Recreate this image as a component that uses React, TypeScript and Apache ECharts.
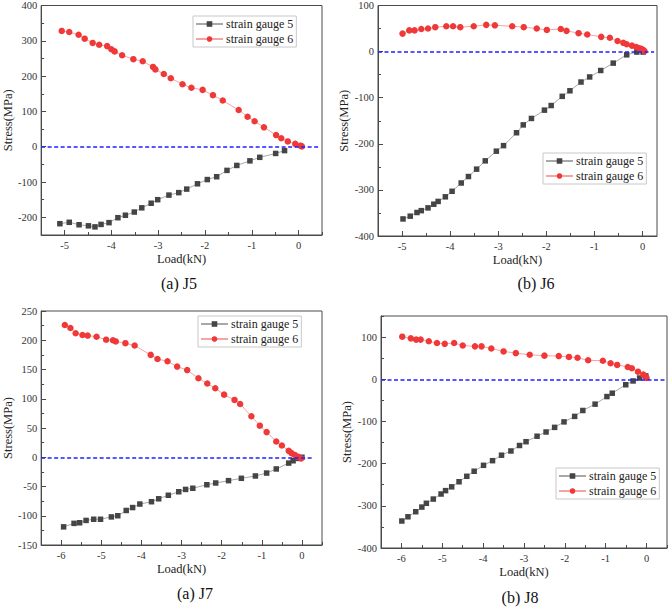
import React, { useEffect, useRef } from "react";
import * as echarts from "echarts";

// ---------------- DATA ----------------
// J5
const j5G6Load = [-5.06, -4.9, -4.7, -4.57, -4.4, -4.26, -4.09, -4.0, -3.93, -3.77, -3.53, -3.33, -3.11, -3.06, -2.88, -2.73, -2.48, -2.29, -2.05, -1.83, -1.62, -1.28, -1.09, -0.94, -0.74, -0.48, -0.37, -0.23, -0.07, 0.04, 0.07];
const j5G6Stress = [328, 325, 317, 306, 294, 289, 285, 276, 270, 259, 248, 242, 226, 219, 206, 194, 177, 167, 161, 146, 131, 104, 85, 72, 55, 33, 24, 15, 8, 3, 1];
const j5G5Load = [-5.1, -4.9, -4.69, -4.49, -4.35, -4.22, -4.05, -3.86, -3.7, -3.51, -3.35, -3.15, -3.01, -2.77, -2.56, -2.39, -2.16, -1.95, -1.75, -1.53, -1.32, -1.04, -0.83, -0.49, -0.3];
const j5G5Stress = [-218, -214, -221, -224, -227, -220, -215, -201, -194, -185, -173, -160, -150, -137, -130, -120, -105, -93, -85, -67, -53, -40, -30, -19, -11];

// J6
const j6G6Load = [-4.99, -4.85, -4.74, -4.6, -4.46, -4.31, -4.08, -3.94, -3.79, -3.51, -3.25, -3.07, -2.71, -2.47, -2.2, -1.99, -1.7, -1.58, -1.33, -1.15, -0.86, -0.68, -0.52, -0.4, -0.33, -0.22, -0.13, -0.07, -0.03, 0.01, 0.04];
const j6G6Stress = [39, 46, 46, 49, 50, 53, 55, 55, 53, 55, 58, 57, 55, 53, 50, 47, 49, 45, 40, 37, 32, 30, 23, 19, 16, 13, 10, 7, 6, 4, 1];
const j6G5Load = [-4.98, -4.83, -4.69, -4.6, -4.46, -4.34, -4.25, -4.1, -3.96, -3.77, -3.62, -3.45, -3.27, -3.04, -2.89, -2.62, -2.48, -2.31, -2.04, -1.9, -1.67, -1.51, -1.28, -1.1, -0.87, -0.61, -0.33, -0.12, 0.01];
const j6G5Stress = [-363, -357, -349, -345, -339, -331, -325, -315, -303, -285, -271, -255, -237, -216, -204, -176, -159, -145, -127, -117, -97, -85, -66, -55, -41, -25, -7, -1, -1];

// J7
const j7G6Load = [-5.91, -5.77, -5.64, -5.47, -5.34, -5.12, -4.88, -4.71, -4.64, -4.4, -4.17, -3.77, -3.6, -3.35, -3.11, -2.86, -2.58, -2.36, -2.16, -1.94, -1.68, -1.54, -1.26, -1.05, -0.88, -0.64, -0.5, -0.33, -0.26, -0.18, -0.1, -0.02];
const j7G6Stress = [226, 221, 212, 209, 208, 206, 201, 200, 198, 195, 191, 175, 168, 164, 155, 149, 135, 126, 118, 107, 98, 91, 70, 54, 43, 27, 20, 11, 7, 4, 1, -2];
const j7G5Load = [-5.94, -5.68, -5.54, -5.38, -5.19, -5.02, -4.75, -4.59, -4.38, -4.22, -4.04, -3.75, -3.57, -3.33, -3.07, -2.9, -2.72, -2.37, -2.15, -1.83, -1.51, -1.16, -0.88, -0.64, -0.33, -0.22, -0.09, 0.0];
const j7G5Stress = [-119, -113, -112, -108, -106, -106, -102, -100, -91, -86, -80, -76, -71, -65, -59, -55, -53, -47, -44, -40, -36, -32, -27, -20, -10, -6, -2, 0];

// J8
const j8G6Load = [-5.98, -5.77, -5.64, -5.53, -5.33, -5.13, -4.94, -4.71, -4.5, -4.2, -4.04, -3.8, -3.5, -3.2, -2.86, -2.5, -2.15, -1.9, -1.69, -1.43, -1.07, -0.88, -0.72, -0.46, -0.36, -0.21, -0.08, -0.02, 0.0];
const j8G6Stress = [101, 97, 94, 94, 90, 86, 84, 86, 80, 78, 78, 73, 66, 62, 58, 56, 55, 53, 51, 45, 44, 38, 34, 29, 26, 18, 11, 6, 3];
const j8G5Load = [-5.99, -5.84, -5.65, -5.5, -5.39, -5.22, -5.03, -4.92, -4.77, -4.59, -4.4, -4.22, -3.99, -3.77, -3.55, -3.32, -3.11, -2.95, -2.68, -2.46, -2.25, -2.02, -1.76, -1.56, -1.26, -0.97, -0.84, -0.51, -0.33, -0.17, -0.02];
const j8G5Stress = [-336, -326, -314, -303, -294, -284, -272, -264, -255, -243, -230, -218, -204, -193, -180, -170, -157, -148, -135, -125, -114, -101, -88, -74, -59, -41, -33, -13, -4, 3, 8];

// Axis ticks
const j5XTicks = [-5, -4, -3, -2, -1, 0];
const j5YTicks = [-200, -100, 0, 100, 200, 300, 400];
const j6XTicks = [-5, -4, -3, -2, -1, 0];
const j6YTicks = [-400, -300, -200, -100, 0, 100];
const j7XTicks = [-6, -5, -4, -3, -2, -1, 0];
const j7YTicks = [-150, -100, -50, 0, 50, 100, 150, 200, 250];
const j8XTicks = [-6, -5, -4, -3, -2, -1, 0];
const j8YTicks = [-400, -300, -200, -100, 0, 100];

const captions = ["(a) J5", "(b) J6", "(a) J7", "(b) J8"];
const seriesNames = ["strain gauge 5", "strain gauge 6"];

// ---------------- LAYOUT ----------------
const FONT = "'Liberation Serif', 'Times New Roman', 'DejaVu Serif', serif";
const zip = (xs: number[], ys: number[]) => xs.map((x, i) => [x, ys[i]]);
const minors = (ticks: number[], min: number, max: number) => {
  const step = ticks[1] - ticks[0];
  const out: number[] = [];
  for (let v = ticks[0] - step / 2; v <= max + 1e-9; v += step) {
    if (v >= min - 1e-9) out.push(v);
  }
  return out;
};

const panels = [
  { grid: { left: 36, top: 5, width: 286, height: 230 }, x: [-5.5, 0.5], y: [-250, 400], xt: j5XTicks, yt: j5YTicks,
    g5: zip(j5G5Load, j5G5Stress), g6: zip(j5G6Load, j5G6Stress), zeroEnd: 0.45,
    legend: { left: 193, top: 16 }, caption: [179, 283] },
  { grid: { left: 378, top: 4, width: 279, height: 232 }, x: [-5.5, 0.3], y: [-400, 100], xt: j6XTicks, yt: j6YTicks,
    g5: zip(j6G5Load, j6G5Stress), g6: zip(j6G6Load, j6G6Stress), zeroEnd: 0.24,
    legend: { left: 543, top: 153 }, caption: [536, 283] },
  { grid: { left: 33, top: 311, width: 289, height: 234 }, x: [-6.5, 0.5], y: [-150, 250], xt: j7XTicks, yt: j7YTicks,
    g5: zip(j7G5Load, j7G5Stress), g6: zip(j7G6Load, j7G6Stress), zeroEnd: 0.26,
    legend: { left: 198, top: 316 }, caption: [195, 593] },
  { grid: { left: 381, top: 316, width: 286, height: 232 }, x: [-6.5, 0.5], y: [-400, 150], xt: j8XTicks, yt: j8YTicks,
    g5: zip(j8G5Load, j8G5Stress), g6: zip(j8G6Load, j8G6Stress), zeroEnd: 0.5,
    legend: { left: 556, top: 468 }, caption: [520, 597] },
];

export default function App() {
  const ref = useRef<HTMLDivElement>(null);
  useEffect(() => {
    if (!ref.current) return;
    const chart = echarts.init(ref.current, undefined, { renderer: "svg" });
    const grids: any[] = [];
    const xAxes: any[] = [];
    const yAxes: any[] = [];
    const series: any[] = [];
    const legends: any[] = [];
    const graphics: any[] = [];
    const axisColor = "#4a4a4a";
    const labelStyle = { color: "#333", fontFamily: FONT, fontSize: 10.5 };

    panels.forEach((p, i) => {
      grids.push({ ...p.grid, show: true, borderColor: axisColor, borderWidth: 1, containLabel: false });
      const xMain = xAxes.length;
      xAxes.push({
        type: "value", gridIndex: i, min: p.x[0], max: p.x[1], position: "bottom",
        name: "Load(kN)", nameLocation: "middle", nameGap: 17,
        nameTextStyle: { fontFamily: FONT, fontSize: 12.5, color: "#222" },
        axisLine: { show: true, onZero: false, lineStyle: { color: axisColor, width: 1 } },
        axisTick: { show: true, inside: true, length: 5, customValues: p.xt, lineStyle: { color: axisColor } },
        axisLabel: { show: true, customValues: p.xt, margin: 5, ...labelStyle },
        splitLine: { show: false },
      });
      xAxes.push({
        type: "value", gridIndex: i, min: p.x[0], max: p.x[1], position: "bottom",
        axisLine: { show: false, onZero: false },
        axisTick: { show: true, inside: true, length: 3, customValues: minors(p.xt, p.x[0], p.x[1]), lineStyle: { color: axisColor } },
        axisLabel: { show: false }, splitLine: { show: false },
      });
      const yMain = yAxes.length;
      yAxes.push({
        type: "value", gridIndex: i, min: p.y[0], max: p.y[1], position: "left",
        name: "Stress(MPa)", nameLocation: "middle", nameGap: 23,
        nameTextStyle: { fontFamily: FONT, fontSize: 12.5, color: "#222" },
        axisLine: { show: true, onZero: false, lineStyle: { color: axisColor, width: 1 } },
        axisTick: { show: true, inside: true, length: 5, customValues: p.yt, lineStyle: { color: axisColor } },
        axisLabel: { show: true, customValues: p.yt, margin: 4, ...labelStyle },
        splitLine: { show: false },
      });
      yAxes.push({
        type: "value", gridIndex: i, min: p.y[0], max: p.y[1], position: "left",
        axisLine: { show: false, onZero: false },
        axisTick: { show: true, inside: true, length: 3, customValues: minors(p.yt, p.y[0], p.y[1]), lineStyle: { color: axisColor } },
        axisLabel: { show: false }, splitLine: { show: false },
      });
      series.push({
        type: "line", name: seriesNames[0], xAxisIndex: xMain, yAxisIndex: yMain, data: p.g5,
        symbol: "rect", symbolSize: 5.5, itemStyle: { color: "#454545" },
        lineStyle: { color: "#a8a8a8", width: 1 }, z: 3,
        markLine: {
          silent: true, symbol: "none", label: { show: false },
          lineStyle: { color: "#2020ff", type: [4, 2.5], width: 1.5 },
          data: [[{ coord: [p.x[0], 0] }, { coord: [p.zeroEnd, 0] }]],
        },
      });
      series.push({
        type: "line", name: seriesNames[1], xAxisIndex: xMain, yAxisIndex: yMain, data: p.g6,
        symbol: "circle", symbolSize: 6.5, itemStyle: { color: "#f03838" },
        lineStyle: { color: "#f4a4a4", width: 1 }, z: 4,
      });
      legends.push({
        left: p.legend.left, top: p.legend.top, orient: "vertical", data: seriesNames,
        borderColor: "#c8c8c8", borderWidth: 1, padding: [2, 3, 2, 2], itemGap: 3,
        itemWidth: 27, itemHeight: 7, selectedMode: false,
        textStyle: { fontFamily: FONT, fontSize: 12, lineHeight: 12, color: "#222", padding: [0, 0, 0, -2] },
      });
      graphics.push({
        type: "text", x: p.caption[0], y: p.caption[1],
        style: { text: captions[i], fontFamily: FONT, fontSize: 16, fill: "#111", align: "center", verticalAlign: "middle" },
      });
    });

    chart.setOption({
      animation: false,
      backgroundColor: "#fff",
      grid: grids, xAxis: xAxes, yAxis: yAxes, series, legend: legends, graphic: graphics,
    });
    return () => chart.dispose();
  }, []);
  return <div ref={ref} style={{ position: "fixed", left: 0, top: 0, width: 669, height: 607 }} />;
}
